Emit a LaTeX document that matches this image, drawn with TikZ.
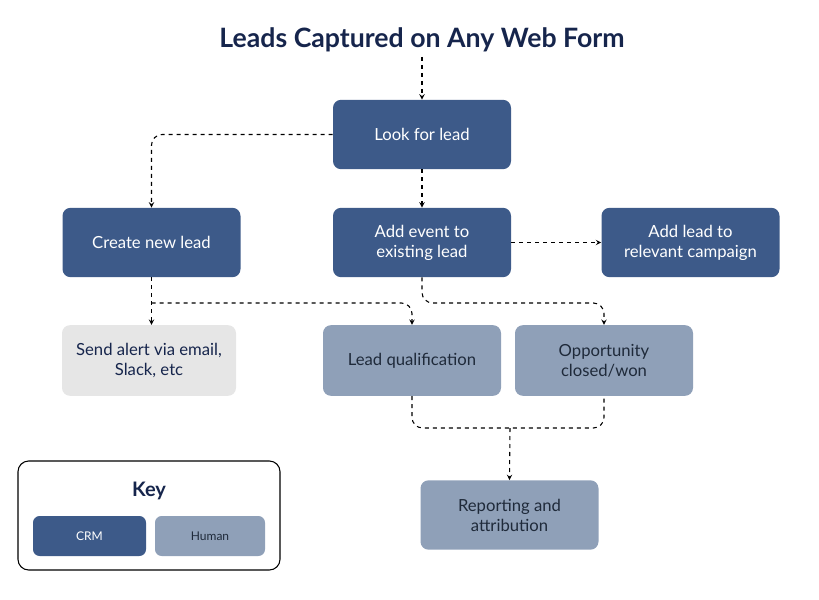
\documentclass[tikz,border=0pt]{standalone}
\usepackage{fontspec}
\setmainfont{Lato}
\usetikzlibrary{positioning}
\definecolor{crm}{RGB}{61,90,137}
\definecolor{human}{RGB}{143,160,184}
\definecolor{alertgray}{RGB}{230,230,230}
\definecolor{navy}{RGB}{22,37,76}
\definecolor{dtext}{RGB}{31,42,58}

\begin{document}
\begin{tikzpicture}[
    x=0.75pt, y=-0.75pt,
    box/.style={rounded corners=6pt, minimum width=133.5pt, minimum height=52pt,
                align=center, font=\fontsize{12.5}{15}\selectfont, inner sep=2pt},
    crmbox/.style={box, fill=crm, text=white},
    humanbox/.style={box, fill=human, text=dtext},
    flow/.style={->, >=stealth, thick, dashed, rounded corners=8pt}
  ]
  \useasboundingbox (0,0) rectangle (819,600);
  \node[font=\fontsize{20}{24}\selectfont\bfseries, text=navy] (title) at (422,40) {Leads Captured on Any Web Form};

  \node[crmbox] (look) at (422,134.5) {Look for lead};
  \node[crmbox] (create) at (151.5,242.5) {Create new lead};
  \node[crmbox] (event) at (422,242.5) {Add event to\\existing lead};
  \node[crmbox] (campaign) at (690.5,242.5) {Add lead to\\relevant campaign};
  \node[box, fill=alertgray, text=navy, minimum width=130.5pt, minimum height=53pt] (alert) at (149,360.5) {Send alert via email,\\Slack, etc};
  \node[humanbox, minimum height=53pt] (qual) at (412,360.5) {Lead qualification};
  \node[humanbox, minimum height=53pt] (opp) at (604,360.5) {Opportunity\\closed/won};
  \node[humanbox] (report) at (509.5,515) {Reporting and\\attribution};

  % key
  \node[draw, thick, rounded corners=8pt, minimum width=196.5pt, minimum height=81.75pt] (key) at (149,515.5) {};
  \node[font=\fontsize{15}{18}\selectfont\bfseries, text=navy] (keytitle) at (149,491) {Key};
  \node[rounded corners=5pt, fill=crm, text=white, minimum width=84.75pt, minimum height=30pt, font=\fontsize{9}{11}\selectfont] (kcrm) at (89.5,536) {CRM};
  \node[rounded corners=5pt, fill=human, text=dtext, minimum width=82.5pt, minimum height=30pt, font=\fontsize{9}{11}\selectfont] (khuman) at (210,536) {Human};

  % connectors
  \draw[flow] (title.south) -- (look.north);
  \draw[flow] (look.west) -| (create.north);
  \draw[flow] (look.south) -- (event.north);
  \draw[flow] (event.east) -- (campaign.west);
  \draw[flow] (create.south) -- (create.south |- alert.north);
  \coordinate (split) at (151.5,303);
  \draw[flow] (split) -| (qual.north);
  \draw[flow] (event.south) |- (513,303) -| (opp.north);
  \coordinate (join) at (510,428);
  \draw[thick, dashed, rounded corners=8pt] (qual.south) |- (join) -| (opp.south);
  \draw[flow] (join) -- (report.north);
\end{tikzpicture}
\end{document}
